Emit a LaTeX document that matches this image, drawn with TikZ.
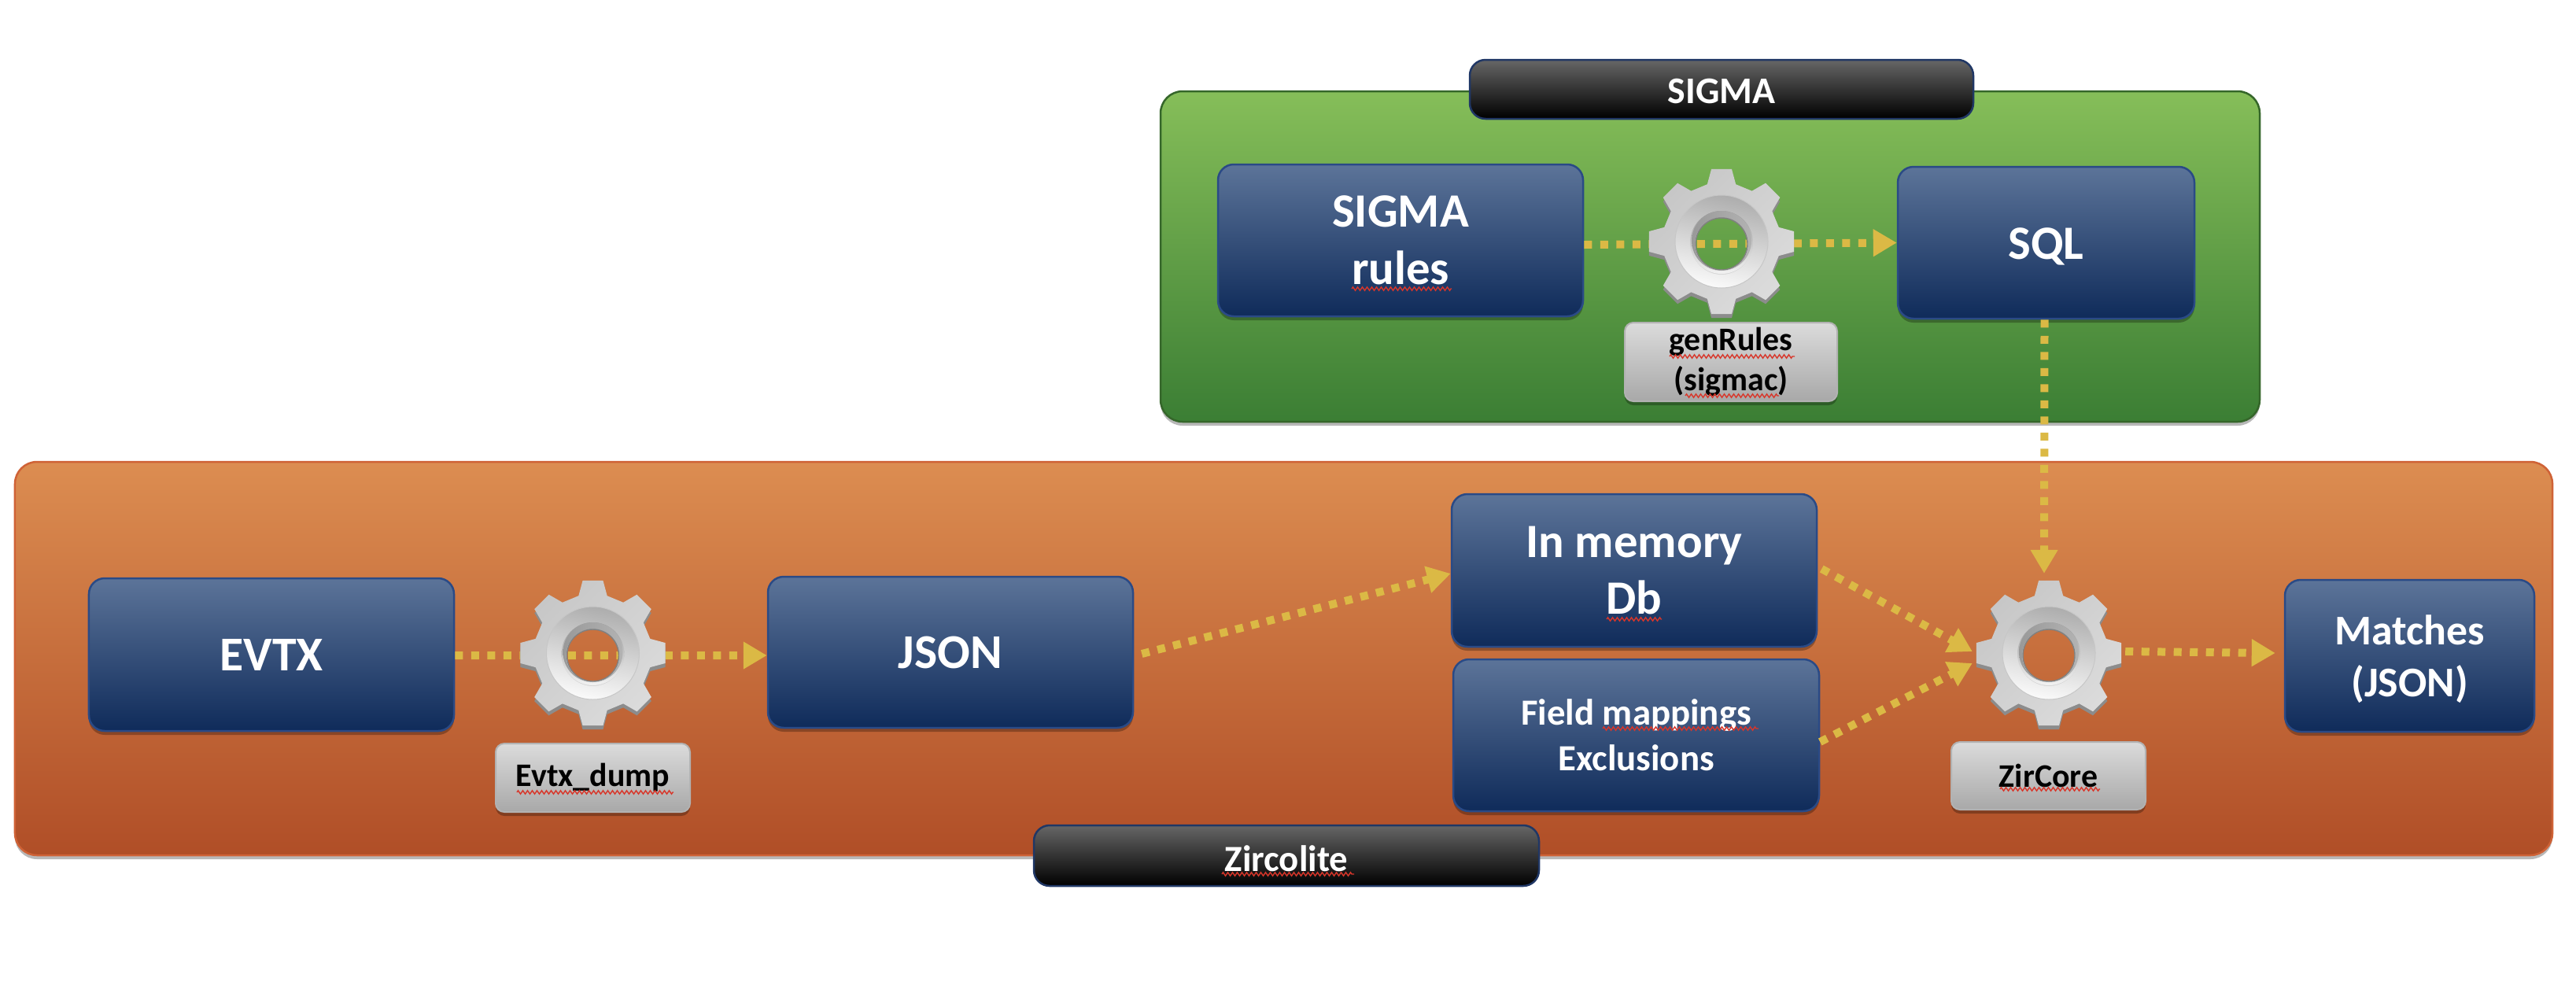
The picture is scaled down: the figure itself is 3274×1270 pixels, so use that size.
\documentclass[tikz,border=0pt]{standalone}
\usepackage{fontspec}
\setmainfont{Carlito}
\usetikzlibrary{arrows.meta,shadows,decorations.pathmorphing,calc}
\definecolor{flowc}{HTML}{DBB945}
\definecolor{bluetop}{HTML}{5C7499}
\definecolor{bluebot}{HTML}{0F2B5A}
\definecolor{blueedge}{HTML}{2A4A86}
\definecolor{greentop}{HTML}{86BE59}
\definecolor{greenbot}{HTML}{3B7E34}
\definecolor{greenedge}{HTML}{35662A}
\definecolor{orangetop}{HTML}{DC8D51}
\definecolor{orangebot}{HTML}{B04E27}
\definecolor{orangeedge}{HTML}{CF6236}
\definecolor{squigc}{HTML}{D8362A}
\newcommand{\gearoutline}{(104:75) \foreach \a in {0,45,...,315}{ -- ({90-\a+14}:75) -- ({90-\a+8}:93) -- ({90-\a-8}:93) -- ({90-\a-14}:75) } -- cycle}
\tikzset{
  fs/.style n args={2}{font=\fontsize{#1}{#2}\selectfont\bfseries},
  softshadow/.style={general shadow={shadow xshift=0bp,shadow yshift=-5bp,fill=black,opacity=.28}},
  basebox/.style={rectangle,inner sep=0pt,align=center,softshadow},
  bluebox/.style={basebox,rounded corners=20bp,draw=blueedge,line width=2.5bp,top color=bluetop,bottom color=bluebot,text=white},
  greybox/.style={basebox,rounded corners=11bp,draw=black!30,line width=2bp,top color=black!14,bottom color=black!34,text=black},
  blackbox/.style={rectangle,inner sep=0pt,align=center,rounded corners=20bp,draw=blueedge!75!black,line width=2.5bp,top color=black!60,bottom color=black,text=white,fs={48}{58}},
  greenpanel/.style={rectangle,rounded corners=28bp,draw=greenedge,line width=2.5bp,top color=greentop,bottom color=greenbot,softshadow},
  orangepanel/.style={rectangle,rounded corners=28bp,draw=orangeedge,line width=2.5bp,top color=orangetop,bottom color=orangebot,softshadow},
  flow/.style={draw=flowc,line width=10bp,dash pattern=on 10bp off 10.5bp,-{Triangle[length=30bp,width=33bp]}},
  squig/.style={draw=squigc,line width=1.4bp,decorate,decoration={zigzag,amplitude=2.2bp,segment length=6bp}},
  gearanchor/.style={circle,minimum size=194bp,inner sep=0pt},
  gearpic/.pic={
    \path[even odd rule,fill=black!45] [shift={(0,5)}] \gearoutline (0,-2) circle (34);
    \path[even odd rule,top color=black!22,middle color=black!5,bottom color=black!14,shading angle=45] \gearoutline (0,3) circle (33);
    \path[even odd rule,top color=black!32,bottom color=black!2,shading angle=-12] (0,0) circle (59) (0,3) circle (39);
    \draw[black!22,line width=1bp] (0,0) circle (59);
    \path[even odd rule,top color=black!40,bottom color=black!5] (0,1) circle (40) (0,3) circle (33);
    \path[even odd rule,left color=black!40,middle color=white,right color=black!30] (0,-1) circle (38) (0,3) circle (34);
    \draw[black!50,line width=1.4bp] (0,3) circle (33);
  }
}
\begin{document}
\begin{tikzpicture}[x=1bp,y=-1bp]
\useasboundingbox (0,0) rectangle (3274,1270);
% panels
\node[greenpanel,minimum width=1397bp,minimum height=420bp] (sigmapanel) at (2173.5,326) {};
\node[orangepanel,minimum width=3225bp,minimum height=500bp] (zirpanel) at (1631.5,837) {};
% boxes
\node[bluebox,fs={61}{73},minimum width=464bp,minimum height=193bp] (rules) at (1780,305.5) {SIGMA\\rules};
\node[bluebox,fs={61}{73},minimum width=377bp,minimum height=193bp] (sql) at (2600.5,308.5) {\rule{0pt}{49bp}SQL};
\node[bluebox,fs={62}{74},minimum width=464bp,minimum height=194bp] (evtx) at (345,832) {EVTX};
\node[bluebox,fs={62}{74},minimum width=464bp,minimum height=192bp] (json) at (1208,829) {\rule{0pt}{42bp}JSON};
\node[bluebox,fs={61}{72},minimum width=464bp,minimum height=194bp] (mem) at (2077,725) {In memory\\Db};
\node[bluebox,fs={47}{58},minimum width=465bp,minimum height=193bp] (field) at (2079.5,934.5) {Field mappings\\Exclusions};
\node[bluebox,fs={54}{66},minimum width=317bp,minimum height=193bp] (matches) at (3062.5,833.5) {\rule{0pt}{46bp}Matches\\(JSON)};
% gear anchors
\node[gearanchor] (gearA) at (753.5,830) {};
\node[gearanchor] (gearB) at (2188,307) {};
\node[gearanchor] (gearC) at (2604,830) {};
% connectors
\draw[flow] ([yshift=-5.5bp]rules.east) -- (sql.west);
\draw[flow] ([yshift=-1bp]evtx.east) -- ([yshift=-4bp]json.west);
\draw[flow] ([xshift=10bp,yshift=-2bp]json.east) -- ([yshift=-4bp]mem.west);
\draw[flow] ([xshift=5bp,yshift=2bp]mem.east) -- ([yshift=2bp]gearC.west);
\draw[flow] ([yshift=-8.5bp]field.east) -- ([yshift=-13bp]gearC.west);
\draw[flow] ([xshift=-2bp]sql.south) -- ([xshift=-6bp,yshift=4bp]gearC.north);
\draw[flow] ([yshift=2bp]gearC.east) -- ([xshift=-11bp,yshift=3.5bp]matches.west);
% gears
\pic at (gearA.center) {gearpic};
\pic at (gearB.center) {gearpic};
\pic at (gearC.center) {gearpic};
% labels
\node[greybox,fs={42}{51},minimum width=270bp,minimum height=100bp] (genrules) at (2200,460) {genRules\\(sigmac)};
\node[greybox,fs={42}{51},minimum width=247bp,minimum height=87bp] (evtxdump) at (753.5,988.5) {Evtx\_dump};
\node[greybox,fs={42}{51},minimum width=247bp,minimum height=86bp] (zircore) at (2603.5,986) {ZirCore};
\node[blackbox,minimum width=640bp,minimum height=75bp] (sigmatag) at (2188,113.5) {\rule{0pt}{36bp}SIGMA};
\node[blackbox,fs={47}{58},minimum width=642bp,minimum height=77bp] (zirtag) at (1635,1087.5) {\rule{0pt}{41bp}Zircolite};
% spell-check squiggles
\draw[squig] (1718,367) -- (1845,367);
\draw[squig] (2122,453) -- (2281,453);
\draw[squig] (2142,503) -- (2261,503);
\draw[squig] (657,1007) -- (856,1007);
\draw[squig] (2042,787) -- (2112,787);
\draw[squig] (2037,926) -- (2235,926);
\draw[squig] (2542,1003) -- (2669,1003);
\draw[squig] (1553,1111) -- (1721,1111);
\end{tikzpicture}
\end{document}
